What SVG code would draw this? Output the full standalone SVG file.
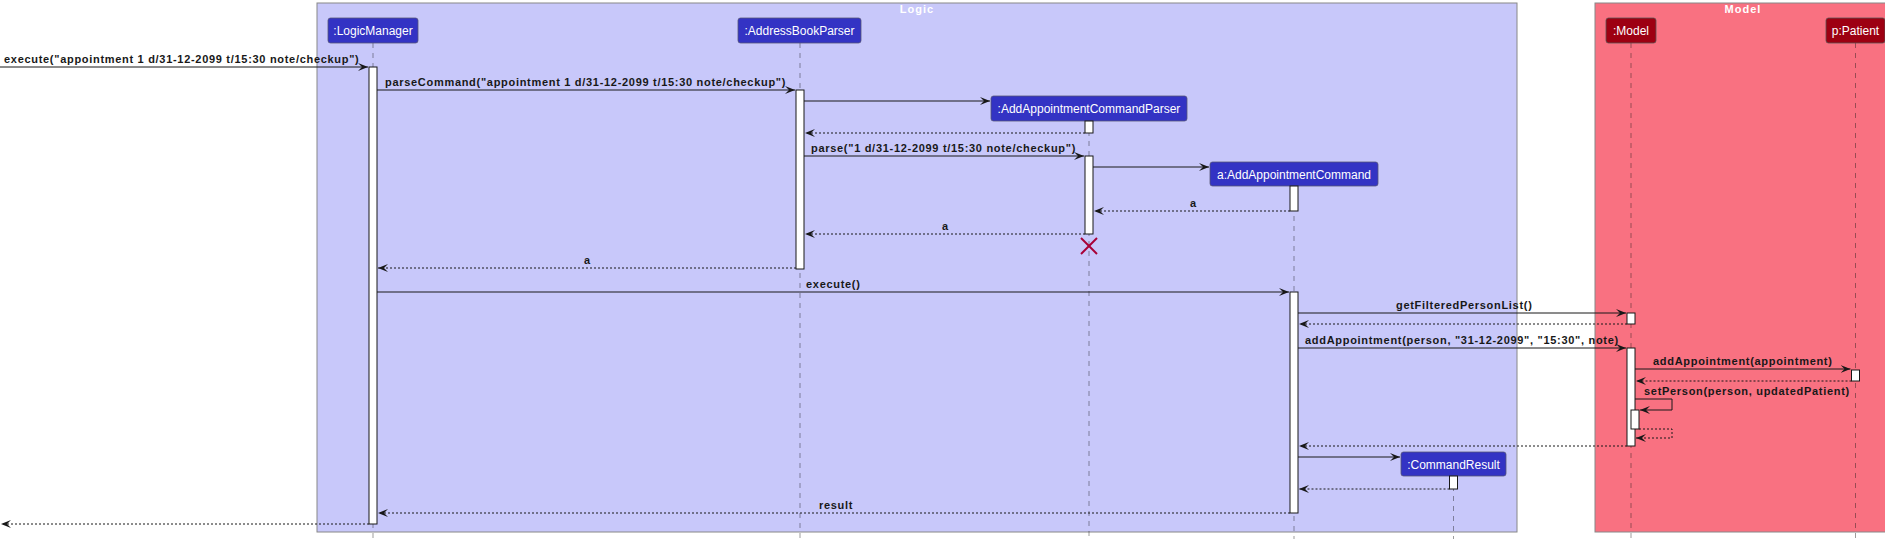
<svg xmlns="http://www.w3.org/2000/svg" width="1885" height="539" viewBox="0 0 1885 539">
<defs>
<style>
.frame{stroke:#888888;stroke-width:1}
.ftitle{font-family:"Liberation Sans",Arial,sans-serif;font-size:11px;font-weight:bold;fill:#FFFFFF;text-anchor:middle;letter-spacing:1px}
.pl{fill:#3333C4;stroke:#555577;stroke-width:0.8}
.pm{fill:#9D0012;stroke:#555555;stroke-width:0.8}
.pt{font-family:"Liberation Sans",Arial,sans-serif;font-size:12px;fill:#FFFFFF;text-anchor:middle}
.life{stroke:#181818;stroke-width:0.6;stroke-dasharray:5,5;opacity:0.7}
.act{fill:#FFFFFF;stroke:#181818;stroke-width:1}
.msg{stroke:#181818;stroke-width:1;fill:none}
.ret{stroke:#181818;stroke-width:1;fill:none;stroke-dasharray:2,2}
.lbl{font-family:"Liberation Sans",Arial,sans-serif;font-size:11px;font-weight:bold;fill:#181818;letter-spacing:0.7px}
</style>
<marker id="ah" markerWidth="12" markerHeight="10" refX="10" refY="4" orient="auto" markerUnits="userSpaceOnUse">
<polygon points="0,0 10,4 0,8 4,4" fill="#181818"/>
</marker>
</defs>
<rect width="1885" height="539" fill="#FFFFFF"/>
<g id="frame-logic">
<rect class="frame" x="317" y="3" width="1200" height="529" fill="#C8C8FA"/>
<text class="ftitle" x="917" y="13">Logic</text>
</g>
<g id="frame-model">
<rect class="frame" x="1595" y="3" width="297" height="529" fill="#F97181"/>
<text class="ftitle" x="1743" y="13">Model</text>
</g>
<g id="lifelines">
<line class="life" x1="373" y1="43" x2="373" y2="539"/>
<line class="life" x1="800" y1="43" x2="800" y2="539"/>
<line class="life" x1="1089" y1="121" x2="1089" y2="539"/>
<line class="life" x1="1294" y1="186" x2="1294" y2="539"/>
<line class="life" x1="1453.5" y1="476" x2="1453.5" y2="539"/>
<line class="life" x1="1631" y1="43" x2="1631" y2="539"/>
<line class="life" x1="1855.5" y1="43" x2="1855.5" y2="539"/>
</g>
<g id="LogicManager">
<rect class="pl" x="328" y="18" width="90" height="25" rx="2.5"/>
<text class="pt" x="373" y="35">:LogicManager</text>
<rect class="act" x="369" y="67" width="8" height="457"/>
</g>
<g id="AddressBookParser">
<rect class="pl" x="738" y="18" width="123" height="25" rx="2.5"/>
<text class="pt" x="799.5" y="35">:AddressBookParser</text>
<rect class="act" x="796" y="90" width="8" height="179"/>
</g>
<g id="AddAppointmentCommandParser">
<rect class="pl" x="991" y="96" width="196" height="25" rx="2.5"/>
<text class="pt" x="1089" y="113">:AddAppointmentCommandParser</text>
<rect class="act" x="1085" y="121" width="8" height="12"/>
<rect class="act" x="1085" y="156" width="8" height="78"/>
<g stroke="#A80036" stroke-width="2">
<line x1="1081" y1="238" x2="1097" y2="254"/>
<line x1="1097" y1="238" x2="1081" y2="254"/>
</g>
</g>
<g id="AddAppointmentCommand">
<rect class="pl" x="1210" y="162" width="168" height="24" rx="2.5"/>
<text class="pt" x="1294" y="178.5">a:AddAppointmentCommand</text>
<rect class="act" x="1290" y="186" width="8" height="25"/>
<rect class="act" x="1290" y="292" width="8" height="221"/>
</g>
<g id="CommandResult">
<rect class="pl" x="1401" y="452" width="105" height="24" rx="2.5"/>
<text class="pt" x="1453.5" y="468.5">:CommandResult</text>
<rect class="act" x="1449.5" y="476" width="8" height="13"/>
</g>
<g id="Model">
<rect class="pm" x="1606" y="18" width="50" height="25" rx="2.5"/>
<text class="pt" x="1631" y="35">:Model</text>
<rect class="act" x="1627" y="313" width="8" height="11"/>
<rect class="act" x="1627" y="348" width="8" height="98"/>
<rect class="act" x="1631" y="410" width="8" height="19" stroke="#666666"/>
</g>
<g id="Patient">
<rect class="pm" x="1826" y="18" width="59" height="25" rx="2.5"/>
<text class="pt" x="1855.5" y="35">p:Patient</text>
<rect class="act" x="1851.5" y="370" width="8" height="11"/>
</g>
<g id="connectors">
<line class="msg" x1="0" y1="67" x2="368" y2="67" marker-end="url(#ah)"/>
<text class="lbl" x="4" y="63">execute("appointment 1 d/31-12-2099 t/15:30 note/checkup")</text>
<line class="msg" x1="377" y1="90" x2="795" y2="90" marker-end="url(#ah)"/>
<text class="lbl" x="385" y="86">parseCommand("appointment 1 d/31-12-2099 t/15:30 note/checkup")</text>
<line class="msg" x1="804" y1="101" x2="990" y2="101" marker-end="url(#ah)"/>
<line class="ret" x1="1085" y1="133" x2="805" y2="133" marker-end="url(#ah)"/>
<line class="msg" x1="804" y1="156" x2="1084" y2="156" marker-end="url(#ah)"/>
<text class="lbl" x="811" y="152">parse("1 d/31-12-2099 t/15:30 note/checkup")</text>
<line class="msg" x1="1093" y1="167" x2="1209" y2="167" marker-end="url(#ah)"/>
<line class="ret" x1="1290" y1="211" x2="1094" y2="211" marker-end="url(#ah)"/>
<text class="lbl" x="1190" y="207">a</text>
<line class="ret" x1="1085" y1="234" x2="805" y2="234" marker-end="url(#ah)"/>
<text class="lbl" x="942" y="230">a</text>
<line class="ret" x1="796" y1="268" x2="378" y2="268" marker-end="url(#ah)"/>
<text class="lbl" x="584" y="264">a</text>
<line class="msg" x1="377" y1="292" x2="1289" y2="292" marker-end="url(#ah)"/>
<text class="lbl" x="806" y="288">execute()</text>
<line class="msg" x1="1298" y1="313" x2="1626" y2="313" marker-end="url(#ah)"/>
<text class="lbl" x="1396" y="309">getFilteredPersonList()</text>
<line class="ret" x1="1627" y1="324" x2="1299" y2="324" marker-end="url(#ah)"/>
<line class="msg" x1="1298" y1="348" x2="1626" y2="348" marker-end="url(#ah)"/>
<text class="lbl" x="1305" y="344">addAppointment(person, "31-12-2099", "15:30", note)</text>
<line class="msg" x1="1635" y1="369" x2="1850.5" y2="369" marker-end="url(#ah)"/>
<text class="lbl" x="1653" y="365">addAppointment(appointment)</text>
<line class="ret" x1="1851.5" y1="381" x2="1636" y2="381" marker-end="url(#ah)"/>
<polyline class="msg" points="1635,399 1672,399 1672,410 1640,410" marker-end="url(#ah)"/>
<text class="lbl" x="1644" y="395">setPerson(person, updatedPatient)</text>
<polyline class="ret" points="1639,429 1672,429 1672,438 1636,438" marker-end="url(#ah)"/>
<line class="ret" x1="1627" y1="446" x2="1299" y2="446" marker-end="url(#ah)"/>
<line class="msg" x1="1298" y1="457" x2="1400" y2="457" marker-end="url(#ah)"/>
<line class="ret" x1="1449.5" y1="489" x2="1299" y2="489" marker-end="url(#ah)"/>
<line class="ret" x1="1290" y1="513" x2="378" y2="513" marker-end="url(#ah)"/>
<text class="lbl" x="819" y="509">result</text>
<line class="ret" x1="369" y1="524" x2="1" y2="524" marker-end="url(#ah)"/>
</g>
</svg>
